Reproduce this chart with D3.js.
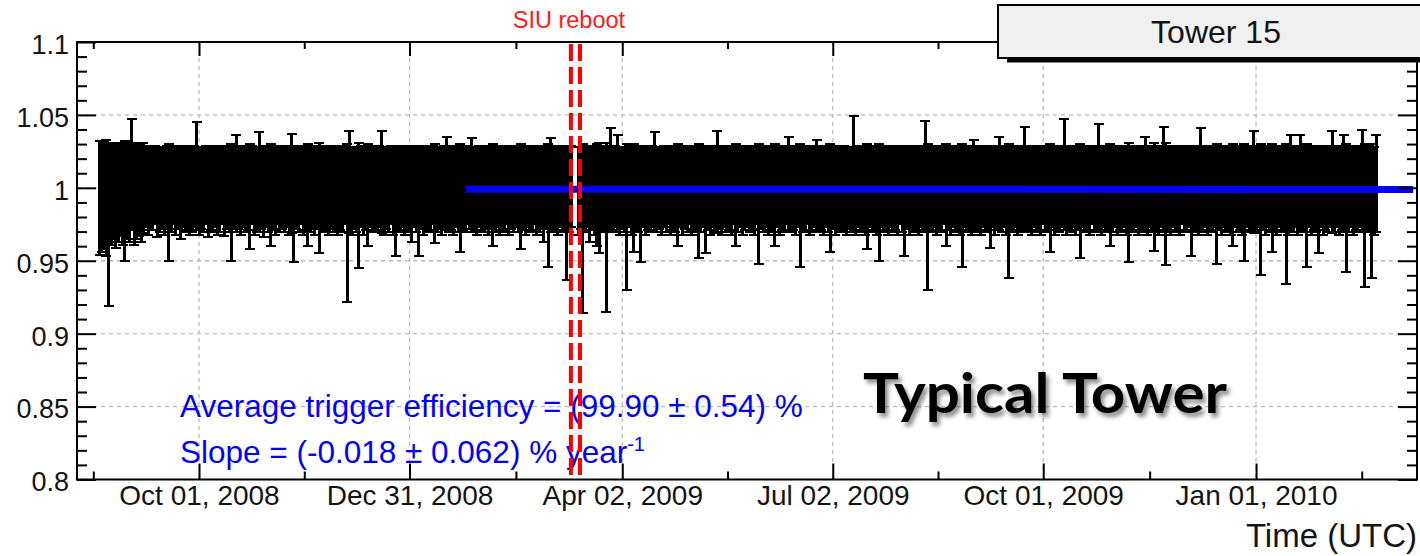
<!DOCTYPE html>
<html>
<head>
<meta charset="utf-8">
<script src="https://cdn.jsdelivr.net/npm/d3@7"></script>
<style>
  html, body { margin: 0; padding: 0; background: #fff; overflow: hidden; }
  svg { display: block; }
</style>
</head>
<body>
<svg id="chart" width="1420" height="556"></svg>
<script>
// ---- Data: daily trigger efficiency of tower 15 (percent) and its error (percent)
const firstDay = "2008-08-19";
const effPct = [
  99.3, 99.4, 99.5, 99.3, 97.5, 99.6, 99.8, 99.5, 99.7, 99.9, 99.6, 99.1, 99.8, 99.7, 100.9, 99.6, 99.8, 99.9, 99.7, 100.0,
  100.1, 99.8, 100.0, 99.9, 100.2, 99.7, 99.9, 100.0, 99.8, 100.1, 99.0, 99.9, 100.2, 99.8, 100.0, 99.7, 100.1, 99.9, 100.0, 99.8,
  99.9, 100.1, 100.8, 99.8, 100.0, 99.9, 100.2, 99.7, 100.0, 99.9, 100.1, 99.8, 99.9, 100.2, 99.8, 100.0, 99.9, 99.0, 100.1, 100.3,
  100.0, 99.8, 100.1, 99.9, 100.0, 99.4, 100.2, 99.8, 99.9, 100.4, 100.0, 99.7, 100.1, 99.9, 99.5, 100.0, 99.8, 100.2, 99.9, 100.0,
  99.9, 100.1, 99.8, 100.3, 98.9, 100.0, 99.9, 100.2, 99.8, 100.0, 99.5, 99.9, 100.1, 99.8, 100.0, 99.3, 100.1, 99.9, 100.0, 99.8,
  100.0, 99.9, 100.1, 99.8, 100.0, 99.9, 100.2, 97.6, 100.4, 99.8, 100.0, 99.9, 98.8, 100.1, 99.8, 100.0, 99.5, 100.1, 99.9, 100.0,
  99.9, 100.1, 100.4, 99.8, 100.0, 99.9, 100.2, 99.8, 99.1, 100.0, 99.9, 100.1, 99.8, 100.0, 99.9, 99.6, 100.1, 99.9, 99.1, 100.0,
  99.8, 100.1, 99.9, 100.0, 100.2, 99.6, 99.9, 100.0, 99.8, 100.1, 100.3, 99.9, 100.0, 99.8, 100.1, 99.9, 99.3, 100.0, 99.9, 100.2,
  100.0, 100.2, 99.9, 99.8, 100.1, 100.0, 99.9, 100.1, 99.8, 100.0, 99.5, 99.9, 100.1, 99.8, 100.0, 99.9, 100.2, 99.8, 100.0, 99.9,
  100.1, 99.9, 99.4, 100.0, 99.8, 100.1, 99.9, 100.0, 100.2, 99.8, 99.9, 100.1, 99.6, 100.0, 98.8, 100.2, 99.9, 100.0, 99.8, 100.1,
  99.9, 100.0, 98.3, 99.9, 100.1, null, null, 99.8, 100.0, 97.2, 99.9, 100.1, 99.6, 100.0, 99.8, 99.5, 99.3, 99.9, 100.0, 97.3,
  100.0, 100.6, 99.9, 100.1, 100.3, 99.8, 100.0, 99.9, 98.0, 100.1, 99.8, 99.3, 100.0, 99.9, 98.9, 100.1, 99.8, 100.0, 99.9, 100.1,
  100.4, 99.9, 100.0, 99.8, 100.1, 99.9, 100.2, 99.8, 100.0, 99.9, 99.5, 100.1, 99.8, 100.0, 99.9, 100.2, 99.8, 100.0, 99.9, 99.1,
  99.9, 100.1, 99.2, 100.0, 99.8, 100.1, 99.9, 100.4, 100.0, 99.8, 100.1, 99.9, 100.0, 99.8, 100.2, 99.5, 99.9, 100.1, 99.8, 100.0,
  100.1, 99.9, 100.0, 99.8, 100.2, 98.9, 100.0, 99.9, 100.1, 99.8, 100.0, 99.9, 99.5, 100.1, 99.8, 100.0, 99.9, 100.2, 100.3, 99.9,
  100.0, 99.8, 100.1, 98.8, 99.9, 100.0, 100.2, 99.8, 99.9, 100.1, 100.2, 99.9, 100.0, 99.8, 100.1, 99.9, 99.3, 100.0, 99.8, 100.1,
  99.9, 100.0, 100.1, 99.8, 100.0, 99.9, 101.0, 99.8, 100.1, 99.9, 100.0, 99.8, 99.4, 100.1, 99.9, 100.0, 99.8, 99.0, 100.1, 99.9,
  100.0, 99.8, 100.1, 99.9, 100.0, 99.8, 100.2, 99.9, 99.1, 100.0, 99.8, 100.1, 99.9, 100.0, 99.8, 100.1, 99.9, 100.8, 98.0, 100.0,
  99.9, 100.1, 99.8, 100.0, 99.9, 100.2, 99.5, 100.0, 99.8, 100.1, 99.9, 100.0, 99.8, 98.8, 100.1, 99.9, 100.0, 99.8, 100.2, 99.9,
  100.0, 99.8, 100.1, 99.9, 100.0, 99.4, 100.1, 99.8, 100.0, 100.3, 99.9, 100.1, 99.8, 98.4, 100.0, 99.9, 100.1, 99.8, 100.0, 99.9,
  100.6, 99.9, 100.0, 99.8, 100.1, 99.9, 100.0, 99.8, 100.2, 99.9, 100.0, 99.3, 100.1, 99.8, 100.0, 99.9, 100.1, 100.9, 99.8, 100.0,
  99.9, 100.1, 99.8, 100.0, 99.1, 100.1, 99.9, 100.0, 99.8, 100.2, 99.9, 100.0, 100.7, 99.8, 100.1, 99.9, 100.0, 99.5, 99.9, 100.1,
  99.8, 100.0, 99.9, 100.1, 99.8, 99.0, 100.0, 99.9, 100.1, 99.8, 100.0, 99.9, 100.3, 99.8, 100.1, 99.9, 99.4, 100.0, 99.8, 100.1,
  100.6, 98.9, 100.0, 99.8, 100.1, 99.9, 100.0, 99.8, 100.2, 99.9, 100.0, 100.1, 99.1, 99.9, 100.0, 99.8, 100.6, 99.9, 100.1, 99.8,
  100.0, 99.9, 100.1, 98.9, 100.0, 99.8, 100.1, 99.9, 100.0, 99.8, 99.5, 100.1, 99.9, 100.0, 99.8, 99.0, 100.1, 99.9, 100.0, 100.4,
  99.9, 100.1, 98.5, 100.0, 99.8, 100.1, 99.9, 99.3, 100.0, 99.8, 100.1, 99.9, 100.0, 98.2, 99.8, 100.3, 99.9, 100.1, 99.8, 100.3,
  100.0, 99.9, 98.8, 100.1, 99.8, 100.0, 99.9, 99.2, 100.1, 99.8, 100.0, 99.9, 100.1, 100.4, 99.9, 100.1, 99.8, 100.0, 100.3, 98.6,
  99.9, 100.1, 99.8, 100.0, 99.9, 100.1, 100.5, 98.1, 99.9, 100.0, 98.4, 99.8, 100.3
];
const errPct = [
  3.9, 3.8, 3.7, 4.0, 5.6, 3.5, 3.3, 3.6, 3.4, 3.2, 3.5, 4.1, 3.3, 3.4, 3.8, 3.5, 3.3, 3.2, 3.4, 3.1,
  2.8, 3.0, 2.9, 2.8, 2.7, 3.1, 2.9, 2.8, 3.0, 2.8, 4.0, 2.9, 2.7, 3.0, 2.8, 3.2, 2.8, 2.9, 2.9, 3.0,
  2.9, 2.8, 3.7, 3.0, 2.8, 2.9, 2.7, 3.1, 2.9, 2.9, 2.8, 3.0, 2.9, 2.7, 3.1, 2.8, 2.9, 4.0, 2.8, 3.3,
  2.8, 3.0, 2.8, 2.9, 2.9, 3.6, 2.7, 3.0, 2.9, 3.4, 2.8, 3.1, 2.8, 2.9, 3.5, 2.9, 3.0, 2.7, 2.9, 2.8,
  2.9, 2.8, 3.0, 3.4, 4.0, 2.8, 2.9, 2.7, 3.0, 2.9, 3.5, 2.9, 2.8, 3.0, 2.8, 3.8, 2.8, 2.9, 2.9, 3.0,
  2.8, 2.9, 2.8, 3.0, 2.9, 2.9, 2.7, 5.4, 3.5, 3.0, 2.8, 2.9, 4.3, 2.8, 3.0, 2.9, 3.5, 2.8, 2.9, 2.9,
  2.9, 2.8, 3.5, 3.0, 2.8, 2.9, 2.7, 3.0, 3.8, 2.9, 2.9, 2.8, 3.0, 2.9, 2.9, 3.3, 2.8, 2.9, 3.8, 2.8,
  3.0, 2.8, 2.9, 2.9, 2.7, 3.4, 2.9, 2.8, 3.0, 2.8, 3.2, 2.9, 2.9, 3.0, 2.8, 2.9, 3.7, 2.9, 2.9, 2.7,
  2.8, 3.2, 2.9, 3.0, 2.8, 2.9, 2.9, 2.8, 3.0, 2.8, 3.5, 2.9, 2.8, 3.0, 2.9, 2.9, 2.7, 3.0, 2.8, 2.9,
  2.8, 2.9, 3.6, 2.9, 3.0, 2.8, 2.9, 2.9, 2.7, 3.0, 2.9, 2.8, 3.3, 2.8, 4.2, 3.2, 2.9, 2.9, 3.0, 2.8,
  2.9, 2.9, 4.6, 2.9, 2.8, null, null, 3.0, 2.8, 5.8, 2.9, 2.8, 3.3, 2.9, 3.0, 3.5, 3.8, 2.9, 2.9, 5.8,
  2.9, 3.5, 2.9, 2.8, 3.3, 3.0, 2.8, 2.9, 5.0, 2.8, 3.0, 3.7, 2.9, 2.9, 4.0, 2.8, 3.0, 2.9, 2.9, 2.8,
  3.4, 2.9, 2.8, 3.0, 2.8, 2.9, 2.7, 3.0, 2.9, 2.9, 3.5, 2.8, 3.0, 2.8, 2.9, 2.7, 3.0, 2.9, 2.9, 3.9,
  2.9, 2.8, 3.7, 2.9, 3.0, 2.8, 2.9, 3.5, 2.8, 3.0, 2.8, 2.9, 2.9, 3.0, 2.7, 3.5, 2.9, 2.8, 3.0, 2.9,
  2.8, 2.9, 2.9, 3.0, 2.7, 4.1, 2.8, 2.9, 2.8, 3.0, 2.9, 2.9, 3.5, 2.8, 3.0, 2.9, 2.9, 2.7, 3.2, 2.9,
  2.9, 3.0, 2.8, 4.2, 2.9, 2.9, 2.7, 3.0, 2.9, 2.8, 3.1, 2.9, 2.9, 3.0, 2.8, 2.9, 3.7, 2.8, 3.0, 2.8,
  2.9, 2.9, 2.8, 3.0, 2.8, 2.9, 3.9, 3.0, 2.8, 2.9, 2.9, 3.0, 3.6, 2.8, 2.9, 2.9, 3.0, 4.0, 2.8, 2.9,
  2.9, 3.0, 2.8, 2.9, 2.9, 3.0, 2.7, 2.9, 3.8, 2.8, 3.0, 2.8, 2.9, 2.9, 3.0, 2.8, 2.9, 3.8, 5.0, 2.9,
  2.9, 2.8, 3.0, 2.9, 2.9, 2.7, 3.5, 2.9, 3.0, 2.8, 2.9, 2.9, 3.0, 4.2, 2.8, 2.9, 2.9, 3.0, 3.1, 2.9,
  2.9, 3.0, 2.8, 2.9, 2.9, 3.5, 2.8, 3.0, 2.9, 3.2, 2.9, 2.8, 3.0, 4.6, 2.9, 2.9, 2.8, 3.0, 2.9, 2.9,
  3.6, 2.9, 2.9, 3.0, 2.8, 2.9, 2.9, 3.0, 2.7, 2.9, 2.9, 3.7, 2.8, 3.0, 2.9, 2.9, 2.8, 3.8, 3.0, 2.9,
  2.9, 2.8, 3.0, 2.9, 3.9, 2.8, 2.9, 2.9, 3.0, 2.7, 2.9, 2.9, 3.7, 3.0, 2.8, 2.9, 2.9, 3.5, 2.9, 2.8,
  3.0, 2.9, 2.9, 2.8, 3.0, 4.1, 2.9, 2.9, 2.8, 3.0, 2.9, 2.9, 3.2, 3.0, 2.8, 2.9, 3.7, 2.9, 3.0, 2.8,
  3.6, 4.2, 2.9, 3.0, 2.8, 2.9, 2.9, 3.0, 2.7, 2.9, 2.9, 2.8, 3.8, 2.9, 2.9, 3.0, 3.5, 2.9, 2.8, 3.0,
  2.9, 2.9, 2.8, 4.1, 2.9, 3.0, 2.8, 2.9, 2.9, 3.0, 3.5, 2.8, 2.9, 2.9, 3.0, 4.0, 2.8, 2.9, 2.9, 3.5,
  2.9, 2.8, 4.5, 2.9, 3.0, 2.8, 2.9, 3.7, 2.9, 3.0, 2.8, 2.9, 2.9, 4.8, 3.0, 3.3, 2.9, 2.8, 3.0, 3.3,
  2.9, 2.9, 4.2, 2.8, 3.0, 2.9, 2.9, 3.7, 2.8, 3.0, 2.9, 2.9, 2.8, 3.5, 2.9, 2.8, 3.0, 2.9, 3.3, 4.4,
  2.9, 2.8, 3.0, 2.9, 2.9, 2.8, 3.5, 4.9, 2.9, 2.9, 4.6, 3.0, 3.3
];

// Fit results
const avgEffPct = 99.90;
const avgEffErrPct = 0.54;
const slopePctPerYear = -0.018;
const slopeErrPctPerYear = 0.062;
const fitRange = ["2009-01-24T10:00Z", "2010-03-09T21:00Z"];

// SIU reboot markers
const rebootTimes = ["2009-03-10T19:00Z", "2009-03-14T17:00Z"];

// Axes
const timeDomain = ["2008-08-09T06:00Z", "2010-03-11T14:00Z"];
const xTickDates = ["2008-10-01", "2008-12-31", "2009-04-02", "2009-07-02", "2009-10-01", "2010-01-01"];
const xTickLabels = ["Oct 01, 2008", "Dec 31, 2008", "Apr 02, 2009", "Jul 02, 2009", "Oct 01, 2009", "Jan 01, 2010"];
const yTicks = [0.8, 0.85, 0.9, 0.95, 1.0, 1.05, 1.1];
const yTickLabels = ["0.8", "0.85", "0.9", "0.95", "1", "1.05", "1.1"];
const yDomain = [0.8, 1.1];

// ---- Layout
const L = 77, R = 1417, T = 42, B = 479.5;
const FONT = "'Liberation Sans', Arial, Helvetica, sans-serif";

const svg = d3.select("#chart");
const x = d3.scaleUtc().domain(timeDomain.map(d => new Date(d))).range([L, R]);
const y = d3.scaleLinear().domain(yDomain).range([B, T]);

const majorDates = xTickDates.map(d => new Date(d + "T00:00Z"));
// half-way minor ticks, plus one beyond each end
const minorDates = [];
for (let i = 0; i < majorDates.length - 1; i++) {
  minorDates.push(new Date((+majorDates[i] + +majorDates[i + 1]) / 2));
}
const step = (+majorDates[majorDates.length - 1] - +majorDates[0]) / (majorDates.length - 1);
minorDates.unshift(new Date(+majorDates[0] - step / 2));
minorDates.push(new Date(+majorDates[majorDates.length - 1] + step / 2));

const yMinor = d3.range(80, 111).map(v => v / 100).filter(v => !yTicks.some(t => Math.abs(t - v) < 1e-9));

// ---- Grid
const grid = svg.append("g").attr("stroke", "#bcbcbc").attr("stroke-width", 1.3).attr("stroke-dasharray", "4,4");
grid.selectAll("line.gx").data(majorDates).join("line")
  .attr("x1", d => x(d)).attr("x2", d => x(d)).attr("y1", T).attr("y2", B);
grid.selectAll("line.gy").data(yTicks.filter(v => v > 0.8 && v < 1.1)).join("line")
  .attr("x1", L).attr("x2", R).attr("y1", d => y(d)).attr("y2", d => y(d));

// ---- Error bars
const day0 = Date.parse(firstDay + "T00:00Z");
const points = effPct.map((v, i) => ({ t: new Date(day0 + i * 864e5), v, e: errPct[i] }))
  .filter(p => p.v != null);

const bars = svg.append("g").attr("stroke", "#000").attr("shape-rendering", "crispEdges");
bars.selectAll("line.v").data(points).join("line")
  .attr("stroke-width", 3)
  .attr("x1", d => x(d.t)).attr("x2", d => x(d.t))
  .attr("y1", d => y((d.v + d.e) / 100)).attr("y2", d => y((d.v - d.e) / 100));
bars.selectAll("line.hi").data(points).join("line")
  .attr("stroke-width", 2)
  .attr("x1", d => x(d.t) - 5).attr("x2", d => x(d.t) + 5)
  .attr("y1", d => y((d.v + d.e) / 100)).attr("y2", d => y((d.v + d.e) / 100));
bars.selectAll("line.lo").data(points).join("line")
  .attr("stroke-width", 2)
  .attr("x1", d => x(d.t) - 5).attr("x2", d => x(d.t) + 5)
  .attr("y1", d => y((d.v - d.e) / 100)).attr("y2", d => y((d.v - d.e) / 100));

// ---- Linear fit
const fitT = fitRange.map(d => new Date(d));
const tMid = (+fitT[0] + +fitT[1]) / 2;
const yearMs = 365.25 * 864e5;
const fitAt = t => (avgEffPct + slopePctPerYear * (+t - tMid) / yearMs) / 100;
svg.append("line")
  .attr("x1", x(fitT[0])).attr("x2", x(fitT[1]))
  .attr("y1", y(fitAt(fitT[0]))).attr("y2", y(fitAt(fitT[1])))
  .attr("stroke", "#0000ff").attr("stroke-width", 7);

// ---- Fit result text
const txt = svg.append("g").attr("font-family", FONT).attr("fill", "#0000ff").attr("font-size", 31.5);
txt.append("text").attr("x", 180).attr("y", 417)
  .text(`Average trigger efficiency = (${avgEffPct.toFixed(2)} \u00b1 ${avgEffErrPct.toFixed(2)}) %`);
const slopeText = txt.append("text").attr("x", 180).attr("y", 463);
slopeText.append("tspan")
  .text(`Slope = (${slopePctPerYear.toFixed(3)} \u00b1 ${slopeErrPctPerYear.toFixed(3)}) % year`);
slopeText.append("tspan").attr("dy", -12).attr("font-size", 20).text("-1");

// ---- SIU reboot lines
const rebootT = rebootTimes.map(d => new Date(d));
svg.append("g").selectAll("line").data(rebootT).join("line")
  .attr("x1", d => x(d)).attr("x2", d => x(d)).attr("y1", T + 2).attr("y2", B)
  .attr("stroke", "#ff0000").attr("stroke-width", 4).attr("stroke-dasharray", "17,6");
svg.append("text")
  .attr("x", x(rebootT[0]) - 2).attr("y", 28).attr("text-anchor", "middle")
  .attr("font-family", FONT).attr("font-size", 23.5).attr("fill", "#ff1a1a")
  .text("SIU reboot");

// ---- Axes
function styleAxis(g) {
  g.select(".domain").remove();
  g.selectAll("line").attr("stroke", "#000").attr("stroke-width", 2);
  g.selectAll("text").attr("font-family", FONT).attr("fill", "#141414");
}
svg.append("g").attr("transform", `translate(0,${B})`)
  .call(d3.axisBottom(x).tickValues(majorDates).tickFormat((d, i) => xTickLabels[i])
    .tickSizeInner(-16).tickSizeOuter(0).tickPadding(6))
  .call(styleAxis).call(g => g.selectAll("text").attr("font-size", 28));
svg.append("g").attr("transform", `translate(0,${B})`)
  .call(d3.axisBottom(x).tickValues(minorDates).tickFormat("").tickSizeInner(-8).tickSizeOuter(0))
  .call(styleAxis);
svg.append("g").attr("transform", `translate(0,${T})`)
  .call(d3.axisTop(x).tickValues(majorDates).tickFormat("").tickSizeInner(-14).tickSizeOuter(0))
  .call(styleAxis);
svg.append("g").attr("transform", `translate(0,${T})`)
  .call(d3.axisTop(x).tickValues(minorDates).tickFormat("").tickSizeInner(-7).tickSizeOuter(0))
  .call(styleAxis);

svg.append("g").attr("transform", `translate(${L},0)`)
  .call(d3.axisLeft(y).tickValues(yTicks).tickFormat((d, i) => yTickLabels[i])
    .tickSizeInner(-19).tickSizeOuter(0).tickPadding(8))
  .call(styleAxis).call(g => g.selectAll("text").attr("font-size", 27).attr("dy", "0.42em"));
svg.append("g").attr("transform", `translate(${L},0)`)
  .call(d3.axisLeft(y).tickValues(yMinor).tickFormat("").tickSizeInner(-10).tickSizeOuter(0))
  .call(styleAxis);
svg.append("g").attr("transform", `translate(${R},0)`)
  .call(d3.axisRight(y).tickValues(yTicks).tickFormat("").tickSizeInner(-19).tickSizeOuter(0))
  .call(styleAxis);
svg.append("g").attr("transform", `translate(${R},0)`)
  .call(d3.axisRight(y).tickValues(yMinor).tickFormat("").tickSizeInner(-10).tickSizeOuter(0))
  .call(styleAxis);

svg.append("rect").attr("x", L).attr("y", T).attr("width", R - L).attr("height", B - T)
  .attr("fill", "none").attr("stroke", "#000").attr("stroke-width", 2);

svg.append("text").attr("x", R).attr("y", 547).attr("text-anchor", "end")
  .attr("font-family", FONT).attr("font-size", 33).attr("fill", "#141414")
  .text("Time (UTC)");

// ---- Title box
svg.append("rect").attr("x", 1007).attr("y", 9.5).attr("width", 440).attr("height", 53).attr("fill", "#000");
svg.append("rect").attr("x", 998).attr("y", 5).attr("width", 440).attr("height", 53)
  .attr("fill", "#f0f0f0").attr("stroke", "#000").attr("stroke-width", 2);
svg.append("text").attr("x", 1216).attr("y", 43).attr("text-anchor", "middle")
  .attr("font-family", FONT).attr("font-size", 32).attr("fill", "#141414")
  .text("Tower 15");

// ---- Annotation
const defs = svg.append("defs");
defs.append("filter").attr("id", "softShadow").attr("x", "-10%").attr("y", "-20%").attr("width", "130%").attr("height", "160%")
  .append("feDropShadow").attr("dx", 3).attr("dy", 4).attr("stdDeviation", 2.2)
  .attr("flood-color", "#000").attr("flood-opacity", 0.45);
svg.append("text").attr("x", 863).attr("y", 413)
  .attr("font-family", "Lato, 'Open Sans', sans-serif").attr("font-weight", 700).attr("font-size", 56)
  .attr("textLength", 364).attr("lengthAdjust", "spacingAndGlyphs")
  .attr("fill", "#000").attr("filter", "url(#softShadow)")
  .text("Typical Tower");
</script>
</body>
</html>
